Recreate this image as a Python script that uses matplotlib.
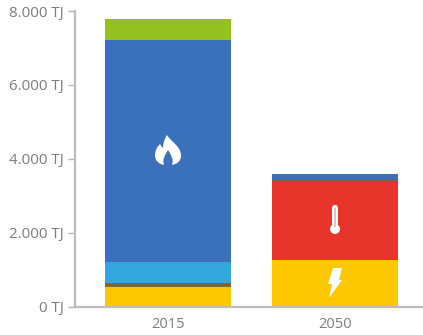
import matplotlib.pyplot as plt
from matplotlib.patches import PathPatch, Circle, FancyBboxPatch
from matplotlib.path import Path
from matplotlib.transforms import Affine2D, ScaledTranslation

plt.rcParams['font.family'] = ['Open Sans', 'DejaVu Sans']

years = ['2015', '2050']
tick_values = [0, 2000, 4000, 6000, 8000]
tick_labels = ['0 TJ', '2.000 TJ', '4.000 TJ', '6.000 TJ', '8.000 TJ']

# stacked from the bottom up
electricity = [530, 1260]
heat = [0, 2115]
brown = [105, 75]
light_blue = [570, 0]
gas = [6005, 140]
green = [570, 0]

segments = [
    (electricity, '#fdc800'),
    (heat, '#e8352b'),
    (brown, '#85622f'),
    (light_blue, '#33a6de'),
    (gas, '#3b71bb'),
    (green, '#95c11f'),
]

fig = plt.figure(figsize=(4.23, 3.35), dpi=100)
ax = fig.add_axes([75 / 423, 28.5 / 335, 348 / 423, 295.5 / 335])

bottom = [0, 0]
for values, color in segments:
    ax.bar([0, 1], values, width=0.75, bottom=bottom, color=color, linewidth=0, zorder=2)
    bottom = [b + v for b, v in zip(bottom, values)]

ax.set_xlim(-0.557, 1.527)
ax.set_ylim(0, 8000)
ax.set_xticks([0, 1], years)
ax.set_yticks(tick_values, tick_labels)
ax.tick_params(axis='x', length=0, pad=7.5, labelsize=10.5, labelcolor='#7c7c80')
ax.tick_params(axis='y', length=5, width=1, color='#b5b5b8', pad=3, labelsize=10.8, labelcolor='#7c7c80')
for side in ['top', 'right']:
    ax.spines[side].set_visible(False)
for side in ['left', 'bottom']:
    ax.spines[side].set_color('#bcbcc0')
    ax.spines[side].set_linewidth(1.6)


def place(x, y):
    # icon outlines are in pixels around an anchor given in data units
    return Affine2D().scale(fig.dpi / 100) + ScaledTranslation(x, y, ax.transData)


M, L, C3, Z = Path.MOVETO, Path.LINETO, Path.CURVE4, Path.CLOSEPOLY

# flame with a notch open at the bottom
flame = Path(
    [(-1, 16), (3, 9), (13, 5), (13, -5), (13, -10), (9, -13), (4, -14),
     (6, -8), (3, -4), (0, 1),
     (-3, -4), (-6, -8), (-4, -14),
     (-9, -13), (-13, -10), (-13, -4),
     (-13, 1), (-10, 5), (-8, 7),
     (-7, 5), (-6, 4), (-5, 3),
     (-5, 8), (-3, 13), (-1, 16),
     (0, 0)],
    [M, C3, C3, C3, C3, C3, C3, C3, C3, C3, C3, C3, C3, C3, C3, C3, C3, C3, C3,
     C3, C3, C3, C3, C3, C3, Z],
)
bolt = Path(
    [(-2, 15), (7, 15), (4, 3), (7, 3), (-6, -15), (-3, -1), (-7, -1), (-2, 15), (0, 0)],
    [M, L, L, L, L, L, L, L, Z],
)

ax.add_patch(PathPatch(flame, fc='white', lw=0, transform=place(0, 4210), zorder=3))
ax.add_patch(PathPatch(bolt, fc='white', lw=0, transform=place(1, 637), zorder=3))

therm = place(1, 2370)
ax.add_patch(FancyBboxPatch((-3, -8), 6, 22, boxstyle='round,pad=0,rounding_size=3',
                            fc='white', lw=0, transform=therm, zorder=3))
ax.add_patch(Circle((0, -10), 5, fc='white', lw=0, transform=therm, zorder=3))
ax.add_patch(FancyBboxPatch((-0.7, -8), 1.4, 19, boxstyle='round,pad=0,rounding_size=0.7',
                            fc='#e8a09a', lw=0, transform=therm, zorder=4))

fig.savefig('out.png', dpi=100)
